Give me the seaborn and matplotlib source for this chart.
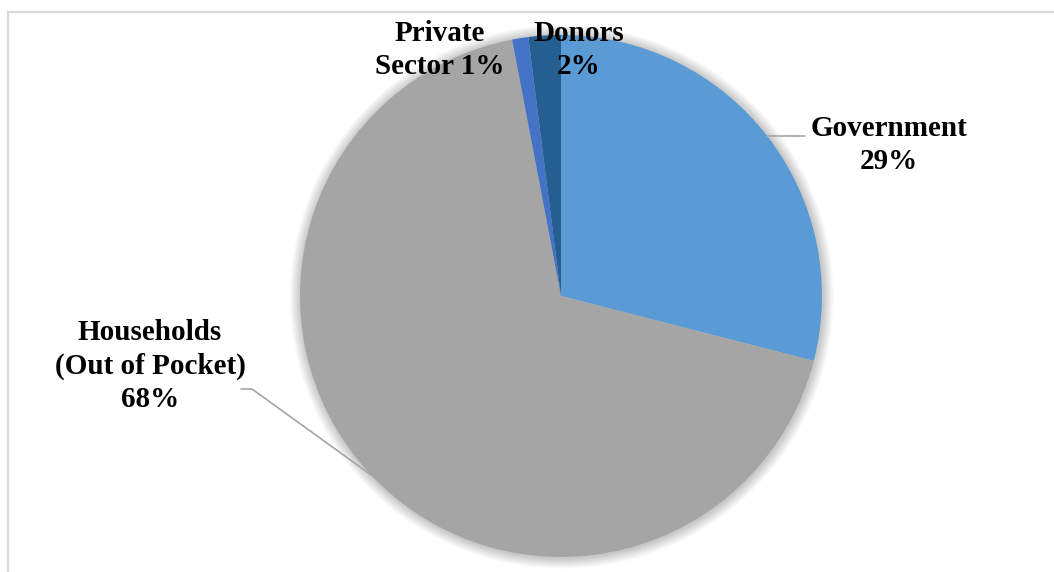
import numpy as np
import matplotlib
matplotlib.use("Agg")
import matplotlib.pyplot as plt
from matplotlib.patches import Circle
from matplotlib.lines import Line2D
import seaborn as sns

# Health expenditure by source of financing
sources = ["Government", "Households\n(Out of Pocket)", "Private\nSector", "Donors"]
shares = [29, 68, 1, 2]
colors = ["#5B9BD5", "#A5A5A5", "#4472C4", "#255E91"]

sns.set_theme(style="white")
plt.rcParams["font.family"] = ["Liberation Serif", "DejaVu Serif"]

W, H = 1054, 572
fig = plt.figure(figsize=(W / 100, H / 100), dpi=100)
fig.patch.set_facecolor("white")

# chart-area frame (left and top edges visible)
fig.add_artist(Line2D([7.5 / W, 7.5 / W], [0, 1 - 11.5 / H], transform=fig.transFigure,
                      color="#D9D9D9", lw=1.6))
fig.add_artist(Line2D([7.5 / W, 1], [1 - 11.5 / H, 1 - 11.5 / H], transform=fig.transFigure,
                      color="#D9D9D9", lw=1.6))

cx, cy, r = 561, 296, 261
ax = fig.add_axes([(cx - r) / W, (H - cy - r) / H, 2 * r / W, 2 * r / H])
ax.axis("off")

# soft shadow around the pie
for k in range(14):
    ax.add_patch(Circle((0.003, -0.003), 1 + 0.003 * (k + 1), color="black",
                        alpha=0.016, lw=0, zorder=0, clip_on=False))

wedges, _ = ax.pie(shares, colors=colors, startangle=90, counterclock=False,
                   radius=1, wedgeprops=dict(linewidth=0), frame=False)
for w in wedges:
    w.set_zorder(2)
ax.set_xlim(-1, 1)
ax.set_ylim(-1, 1)
ax.set_aspect("auto")

def px(x, y):
    return (x - cx) / r, (cy - y) / r

def mid_point(i):
    w = wedges[i]
    a = np.deg2rad((w.theta1 + w.theta2) / 2)
    return np.cos(a), np.sin(a)

label_kw = dict(fontsize=21, fontweight="bold", ha="center", va="center",
                color="black", linespacing=1.3, clip_on=False, zorder=5)

pcts = [f"{v}%" for v in shares]
lead = dict(color="#A6A6A6", lw=1.2, clip_on=False, zorder=3)

# Government
gx, gy = px(889, 145)
ax.text(gx, gy, f"{sources[0]}\n{pcts[0]}", **label_kw)
ex, ey = mid_point(0)
ax.plot([ex, px(805, 0)[0]], [ey, ey], **lead)

# Households
hx, hy = px(150, 366)
ax.text(hx, hy, f"{sources[1]}\n{pcts[1]}", **label_kw)
ex, ey = mid_point(1)
kx, ky = px(252, 389)
ax.plot([px(241, 0)[0], kx, ex], [ky, ky, ey], **lead)

# Private sector
prx, pry = px(440, 50)
ax.text(prx, pry, f"{sources[2]} {pcts[2]}", **label_kw)

# Donors
dx, dy = px(579, 50)
ax.text(dx, dy, f"{sources[3]}\n{pcts[3]}", **label_kw)

fig.savefig("out.png", dpi=100, facecolor="white")
